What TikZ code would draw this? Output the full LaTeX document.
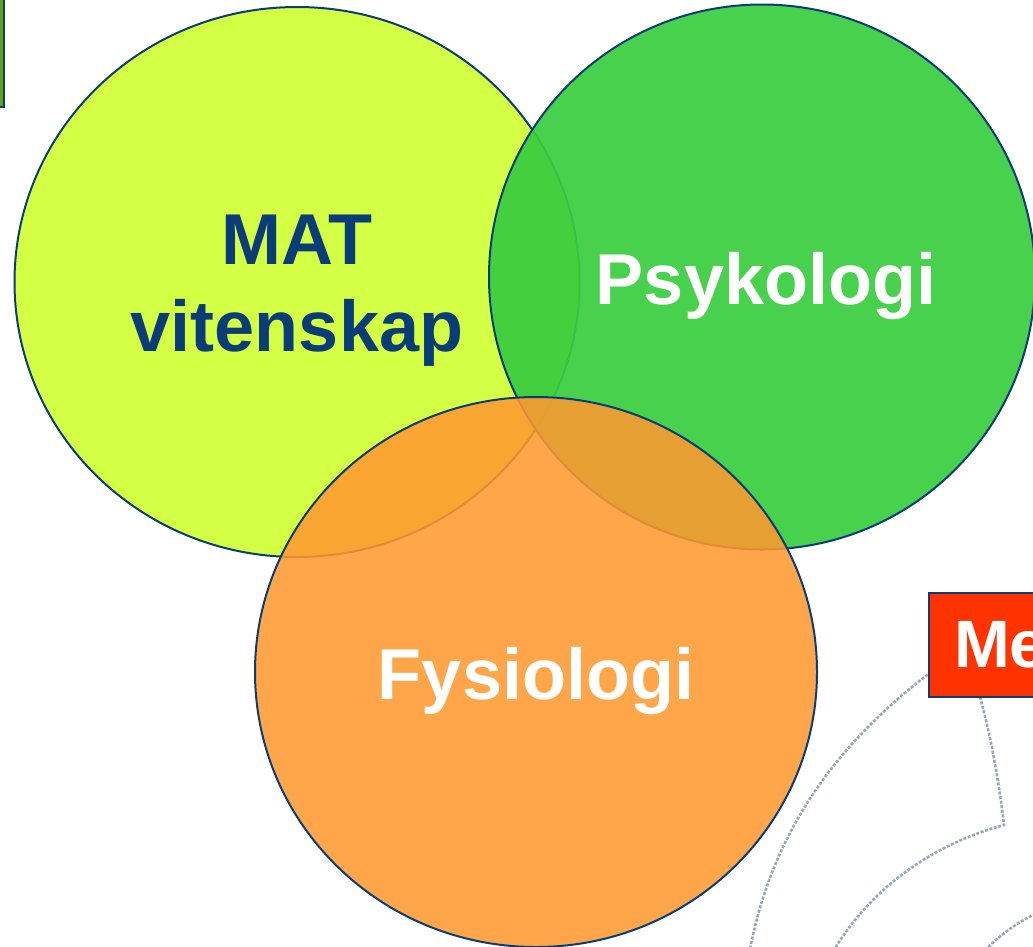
\documentclass[tikz,border=0pt]{standalone}
\usepackage{fontspec}
\setmainfont{Liberation Sans}
\usetikzlibrary{positioning, shapes.geometric}

\definecolor{venblue}{RGB}{10,61,120}
\definecolor{matyellow}{RGB}{211,255,68}
\definecolor{psykgreen}{RGB}{58,205,62}
\definecolor{fysorange}{RGB}{255,152,47}
\definecolor{meorange}{RGB}{255,51,0}
\definecolor{tabgreen}{RGB}{102,163,10}
\definecolor{sketchgray}{RGB}{150,168,184}

\begin{document}
\begin{tikzpicture}[
    x=1pt, y=-1pt,
    venn/.style={ellipse, draw=venblue, line width=2pt, inner sep=0pt},
    venntext/.style={align=center, font=\bfseries\fontsize{72}{87}\selectfont},
    sketch/.style={draw=sketchgray, line width=2.6pt, dash pattern=on 3pt off 1.6pt},
]
\useasboundingbox (0,0) rectangle (1033,946);
\clip (0,0) rectangle (1033,946);

% Background sketch
\coordinate (a1) at (935,669);
\coordinate (a2) at (748,960);
\coordinate (b1) at (980,697);
\coordinate (b2) at (1004,825);
\coordinate (c2) at (834,950);
\coordinate (d1) at (1040,912);
\coordinate (d2) at (985,950);
\draw [sketch] (a1) .. controls (840,740) and (770,830) .. (a2);
\draw [sketch] (b1) .. controls (992,740) and (1000,790) .. (b2)
               .. controls (930,845) and (870,890) .. (c2);
\draw [sketch] (d1) .. controls (1020,920) and (1000,935) .. (d2);

% Circles
\node [draw=venblue, line width=2pt, fill=tabgreen, minimum width=20pt, minimum height=120pt,
       anchor=north east, inner sep=0pt] (tab) at (4.5,-14) {};
\node [venn, fill=matyellow, minimum width=565pt, minimum height=550pt] (mat) at (297,282) {};
\node [venntext, text=venblue] (mattext) at ([yshift=-9pt]mat.center) {MAT\\vitenskap};
\node [venn, fill=psykgreen, fill opacity=0.93, minimum width=546pt, minimum height=545pt] (psyk) at (762,277) {};
\node [venntext, text=white] (psyktext) at ([yshift=-9pt,xshift=4pt]psyk.center) {Psykologi};
\node [venn, fill=fysorange, fill opacity=0.87, minimum width=562pt, minimum height=550pt] (fys) at (536,672) {};
\node [venntext, text=white] (fystext) at ([yshift=-9pt]fys.center) {Fysiologi};

% Label box
\node [draw=venblue, line width=2pt, fill=meorange, anchor=north west, minimum height=104pt,
       minimum width=220pt, inner xsep=16pt, text=white, text width=170pt,
       font=\bfseries\fontsize{67}{70}\selectfont] (me) at (928,592) {Me};

\end{tikzpicture}
\end{document}
